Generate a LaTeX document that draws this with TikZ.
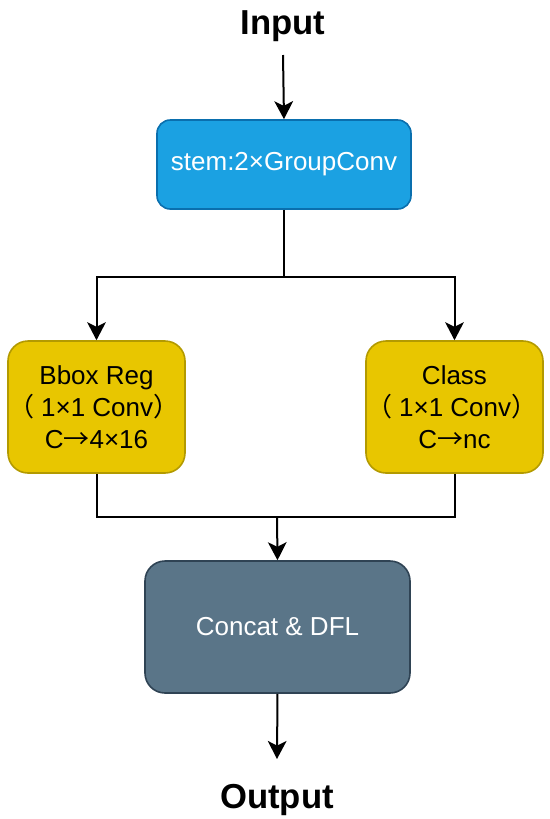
\documentclass[tikz,border=0pt]{standalone}
\usepackage{fontspec}
\setmainfont{Liberation Sans}
\newfontfamily\cjkfont{Noto Sans CJK TC}
\usetikzlibrary{arrows.meta}

\definecolor{stemfill}{HTML}{1BA1E2}
\definecolor{stemline}{HTML}{0A6FAE}
\definecolor{headfill}{HTML}{E8C600}
\definecolor{headline}{HTML}{B39A00}
\definecolor{catfill}{HTML}{5A7588}
\definecolor{catline}{HTML}{2F4354}

\newcommand{\lpar}{{\cjkfont\kern-0.2em （\kern0.25em}}
\newcommand{\rpar}{{\cjkfont ）}}

\tikzset{
  block/.style={draw, line width=1.2pt, align=center,
    font=\fontsize{19.5}{23.8}\selectfont},
  stemblock/.style={block, fill=stemfill, draw=stemline, text=white,
    rounded corners=10pt, minimum width=190.5pt, minimum height=66.75pt},
  headblock/.style={block, fill=headfill, draw=headline, text=black,
    rounded corners=15pt, minimum width=132.75pt, minimum height=99pt},
  catblock/.style={block, fill=catfill, draw=catline, text=white,
    rounded corners=15pt, minimum width=198.75pt, minimum height=99pt},
  io/.style={font=\fontsize{26}{30}\selectfont\bfseries},
  wire/.style={line width=1.5pt},
  arr/.style={wire, -{Stealth[length=13.5pt,width=14pt,inset=3.5pt]}},
}

\begin{document}
\begin{tikzpicture}[x=0.75pt,y=-0.75pt]
  \useasboundingbox (0,0) rectangle (550,819);
  % nodes
  \node[io, anchor=base] (input) at (283,34) {Input};
  \node[stemblock] (stem) at (284,164.5) {stem:2×GroupConv};
  \node[headblock] (bbox) at (96.5,407)
    {Bbox Reg\\\lpar 1×1 Conv\rpar\\C{\cjkfont →}4×16};
  \node[headblock] (class) at (454.5,407)
    {Class\\\lpar 1×1 Conv\rpar\\C{\cjkfont →}nc};
  \node[catblock] (concat) at (277.5,627) {Concat \& DFL};
  \node[io, anchor=base] (output) at (277,808) {Output};
  \coordinate (top) at (283,55);
  \coordinate (split) at (284,277);
  \coordinate (merge) at (277,517);
  \coordinate (bottom) at (277,759);
  % connectors
  \draw[arr] (top) -- (stem.north);
  \draw[wire] (stem.south) -- (split);
  \draw[arr] (split) -| (bbox.north);
  \draw[arr] (split) -| (class.north);
  \draw[wire] (bbox.south) |- (merge);
  \draw[wire] (class.south) |- (merge);
  \draw[arr] (merge) -- (concat.north);
  \draw[arr] (concat.south) -- (bottom);
\end{tikzpicture}
\end{document}
